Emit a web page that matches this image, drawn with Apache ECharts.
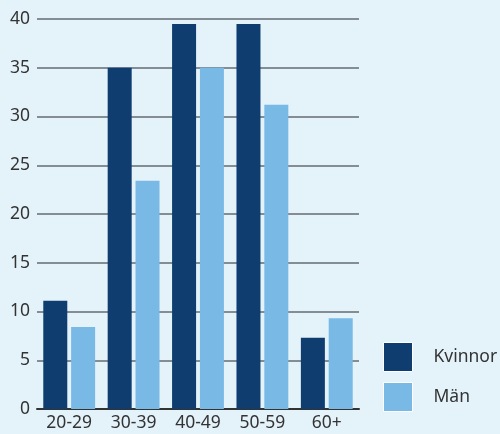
<!DOCTYPE html>
<html>
<head>
<meta charset="utf-8">
<script src="https://cdn.jsdelivr.net/npm/echarts@6/dist/echarts.min.js"></script>
<style>
  html, body { margin: 0; padding: 0; background: #e4f2fa; }
  #chart { width: 500px; height: 434px; }
</style>
</head>
<body>
<div id="chart"></div>
<script>
// Age groups and share per group (%)
const categories = ['20-29', '30-39', '40-49', '50-59', '60+'];
const kvinnor = [11.1, 35.0, 39.5, 39.5, 7.3];
const man = [8.4, 23.4, 35.0, 31.2, 9.3];
const yTicks = { min: 0, max: 40, interval: 5 };

const font = 'Noto Sans';
const chart = echarts.init(document.getElementById('chart'), null, { renderer: 'canvas' });

chart.setOption({
  backgroundColor: '#e4f2fa',
  animation: false,
  textStyle: { fontFamily: font },
  grid: { left: 37, right: 141, top: 19, bottom: 25, containLabel: false },
  legend: {
    orient: 'vertical',
    left: 383,
    top: 342,
    padding: 0,
    itemWidth: 29,
    itemHeight: 29,
    itemGap: 10,
    icon: 'rect',
    itemStyle: { borderColor: '#ffffff', borderWidth: 1 },
    textStyle: { fontFamily: font, fontSize: 17.5, color: '#333333', padding: [0, 0, 0, 16] },
    data: ['Kvinnor', 'Män']
  },
  xAxis: {
    type: 'category',
    data: categories,
    axisLine: { show: true, lineStyle: { color: '#333333', width: 2 } },
    axisTick: { show: false },
    axisLabel: { fontFamily: font, fontSize: 17.5, color: '#333333', margin: 5 }
  },
  yAxis: {
    type: 'value',
    min: yTicks.min,
    max: yTicks.max,
    interval: yTicks.interval,
    axisLine: { show: false },
    axisTick: { show: false },
    axisLabel: { fontFamily: font, fontSize: 17.5, color: '#333333', margin: 7 },
    splitLine: { show: true, lineStyle: { color: '#656b71', width: 1.5 } }
  },
  series: [
    {
      name: 'Kvinnor',
      type: 'bar',
      data: kvinnor,
      barWidth: 24,
      barGap: '16%',
      itemStyle: { color: '#0f3d70' }
    },
    {
      name: 'Män',
      type: 'bar',
      data: man,
      barWidth: 24,
      itemStyle: { color: '#78b9e6' }
    }
  ]
});
</script>
</body>
</html>
